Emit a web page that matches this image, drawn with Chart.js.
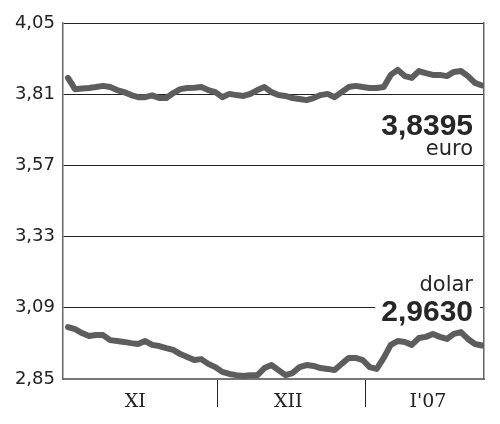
<!DOCTYPE html>
<html>
<head>
<meta charset="utf-8">
<script src="https://cdn.jsdelivr.net/npm/chart.js@4.4.1/dist/chart.umd.min.js"></script>
<style>
  html, body { margin: 0; padding: 0; background: #fff; }
  #wrap { width: 500px; height: 424px; position: relative; }
</style>
</head>
<body>
<div id="wrap"><canvas id="c" width="500" height="424"></canvas></div>
<script>
// ---- data ----
const euroValues = [
  3.865, 3.827, 3.829, 3.831, 3.834, 3.838, 3.834, 3.824, 3.817, 3.807,
  3.800, 3.800, 3.806, 3.797, 3.797, 3.814, 3.827, 3.831, 3.832, 3.834,
  3.824, 3.817, 3.800, 3.811, 3.807, 3.804, 3.811, 3.824, 3.834, 3.817,
  3.807, 3.804, 3.797, 3.794, 3.790, 3.797, 3.807, 3.811, 3.800, 3.817,
  3.834, 3.838, 3.834, 3.831, 3.831, 3.834, 3.875, 3.892, 3.871, 3.865,
  3.888, 3.881, 3.875, 3.875, 3.871, 3.885, 3.888, 3.871, 3.848, 3.8395
];
const dollarValues = [
  3.025, 3.018, 3.005, 2.995, 2.998, 2.998, 2.981, 2.978, 2.975, 2.971,
  2.968, 2.978, 2.965, 2.961, 2.954, 2.948, 2.934, 2.924, 2.914, 2.917,
  2.901, 2.890, 2.874, 2.867, 2.863, 2.860, 2.863, 2.863, 2.887, 2.897,
  2.880, 2.863, 2.870, 2.890, 2.897, 2.894, 2.887, 2.884, 2.880, 2.901,
  2.921, 2.921, 2.914, 2.890, 2.884, 2.921, 2.965, 2.978, 2.975, 2.965,
  2.988, 2.992, 3.002, 2.992, 2.985, 3.002, 3.008, 2.985, 2.968, 2.963
];
const seriesNames = ['euro', 'dolar'];
const lastLabels = ['3,8395', '2,9630'];
const yTicks = [2.85, 3.09, 3.33, 3.57, 3.81, 4.05];
const yTickLabels = ['2,85', '3,09', '3,33', '3,57', '3,81', '4,05'];
const monthLabels = ['XI', 'XII', "I'07"];
const monthCenters = [9.6, 31.4, 51.3];     // session index at label centre
const monthBounds = [21.38, 42.47];         // session index of month dividers
const xMin = -0.71, xMax = 59.29;

const toPts = arr => arr.map((v, i) => ({ x: i, y: v }));

const lineColor = '#5d5d5d';

const labelPlugin = {
  id: 'lastLabels',
  afterDatasetsDraw(chart) {
    const ctx = chart.ctx;
    const ys = chart.scales.y;
    const xr = chart.chartArea.right - 11;
    const eY = ys.getPixelForValue(euroValues[euroValues.length - 1]);
    const dY = ys.getPixelForValue(dollarValues[dollarValues.length - 1]);
    ctx.save();
    ctx.textAlign = 'right';
    ctx.textBaseline = 'alphabetic';
    // euro
    ctx.fillStyle = '#262626';
    ctx.font = 'bold 30px "Liberation Sans", Arial, sans-serif';
    ctx.fillText(lastLabels[0], xr, eY + 50);
    ctx.font = '21px "DejaVu Sans", sans-serif';
    ctx.fillText(seriesNames[0], xr, eY + 70);
    // dolar
    ctx.font = 'bold 30px "Liberation Sans", Arial, sans-serif';
    const w = ctx.measureText(lastLabels[1]).width;
    ctx.fillStyle = '#fff';
    ctx.fillRect(xr - w - 6, dY - 47, w + 13, 30);
    ctx.fillStyle = '#262626';
    ctx.fillText(lastLabels[1], xr, dY - 24);
    ctx.font = '21px "DejaVu Sans", sans-serif';
    ctx.fillText(seriesNames[1], xr, dY - 54);
    ctx.restore();
  }
};

const xTickVals = [...monthBounds, ...monthCenters];

new Chart(document.getElementById('c'), {
  type: 'line',
  data: {
    datasets: [
      { label: seriesNames[0], data: toPts(euroValues), borderColor: lineColor, borderWidth: 6,
        pointRadius: 0, tension: 0, borderJoinStyle: 'round', borderCapStyle: 'round', fill: false },
      { label: seriesNames[1], data: toPts(dollarValues), borderColor: lineColor, borderWidth: 6,
        pointRadius: 0, tension: 0, borderJoinStyle: 'round', borderCapStyle: 'round', fill: false }
    ]
  },
  options: {
    responsive: false,
    animation: false,
    layout: { padding: { top: 23, right: 16, left: 0, bottom: 0 } },
    plugins: { legend: { display: false }, tooltip: { enabled: false } },
    scales: {
      x: {
        type: 'linear',
        min: xMin, max: xMax,
        afterBuildTicks: s => { s.ticks = xTickVals.map(v => ({ value: v })); },
        afterFit: s => { s.height = 45; },
        grid: {
          drawOnChartArea: false,
          tickLength: 28,
          lineWidth: 1,
          color: c => monthBounds.includes(c.tick && c.tick.value) ? '#222' : 'rgba(0,0,0,0)'
        },
        border: { display: true, color: '#777', width: 2 },
        ticks: {
          autoSkip: false, maxRotation: 0, padding: -16,
          color: '#222',
          font: { family: '"DejaVu Serif", serif', size: 19 },
          callback: (v) => { const i = monthCenters.indexOf(v); return i >= 0 ? monthLabels[i] : ''; }
        }
      },
      y: {
        min: 2.85, max: 4.05,
        afterBuildTicks: s => { s.ticks = yTicks.map(v => ({ value: v })); },
        afterFit: s => { s.width = 63; },
        grid: { drawTicks: false, color: '#222', lineWidth: 1 },
        border: { display: true, color: '#666', width: 1.5 },
        ticks: {
          padding: 8, color: '#222',
          font: { family: '"DejaVu Sans", sans-serif', size: 18 },
          callback: (v) => { const i = yTicks.findIndex(t => Math.abs(t - v) < 1e-6); return i >= 0 ? yTickLabels[i] : ''; }
        }
      },
      yR: {
        position: 'right',
        min: 2.85, max: 4.05,
        afterFit: s => { s.width = 0; },
        grid: { display: false, drawTicks: false },
        border: { display: true, color: '#666', width: 1.5 },
        ticks: { display: false }
      }
    }
  },
  plugins: [labelPlugin]
});
</script>
</body>
</html>
